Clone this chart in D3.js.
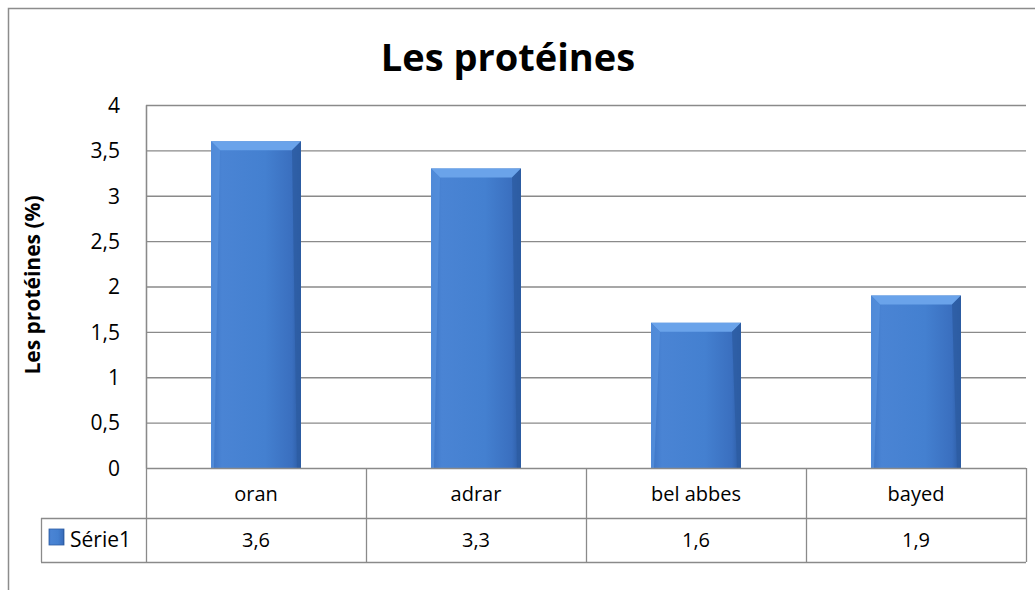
<!DOCTYPE html>
<html>
<head>
<meta charset="utf-8">
<script src="https://cdn.jsdelivr.net/npm/d3@7"></script>
<style>
  body { margin: 0; background: #fff; }
  text { font-family: "Open Sans", sans-serif; fill: #000; }
</style>
</head>
<body>
<div id="chart"></div>
<script>
const categories = ["oran", "adrar", "bel abbes", "bayed"];
const values = [3.6, 3.3, 1.6, 1.9];
const valueLabels = ["3,6", "3,3", "1,6", "1,9"];
const yTicks = [0, 0.5, 1, 1.5, 2, 2.5, 3, 3.5, 4];
const seriesName = "Série1";

const width = 1035, height = 590;
const plot = { left: 146, top: 105, right: 1026, bottom: 468 };
const rowH1 = 50, rowH2 = 44, legendLeft = 41;

const svg = d3.select("#chart").append("svg")
  .attr("width", width).attr("height", height);

const defs = svg.append("defs");
const grad = defs.append("linearGradient").attr("id", "barGrad")
  .attr("x1", "0").attr("x2", "1").attr("y1", "0").attr("y2", "0");
grad.append("stop").attr("offset", "0%").attr("stop-color", "#3b73c4");
grad.append("stop").attr("offset", "12%").attr("stop-color", "#4a84d4");
grad.append("stop").attr("offset", "60%").attr("stop-color", "#4480d0");
grad.append("stop").attr("offset", "90%").attr("stop-color", "#3a6fbf");
grad.append("stop").attr("offset", "100%").attr("stop-color", "#2b5aa0");

// outer chart border
svg.append("rect").attr("x", 8.5).attr("y", 8.5)
  .attr("width", 1040).attr("height", 600)
  .attr("fill", "none").attr("stroke", "#8c8c8c").attr("stroke-width", 1.5);

const x = d3.scaleBand().domain(categories)
  .range([plot.left, plot.right]).paddingInner(0).paddingOuter(0);
const y = d3.scaleLinear().domain([0, 4]).range([plot.bottom, plot.top]);

// gridlines
svg.append("g").selectAll("line").data(yTicks.filter(d => d > 0)).join("line")
  .attr("x1", plot.left).attr("x2", plot.right)
  .attr("y1", d => y(d) + 0.5).attr("y2", d => y(d) + 0.5)
  .attr("stroke", "#8a8a8a").attr("stroke-width", 1.3);

// y axis
const yAxis = svg.append("g").attr("transform", `translate(${plot.left},0)`)
  .call(d3.axisLeft(y).tickValues(yTicks).tickSize(0).tickPadding(26)
    .tickFormat(d => String(d).replace(".", ",")));
yAxis.select(".domain").attr("stroke", "#8a8a8a").attr("stroke-width", 1.3);
yAxis.selectAll("text").attr("font-size", 21).attr("font-family", "Open Sans")
  .attr("dy", "0.35em");

// bars
const barW = 90;
const bars = svg.append("g").selectAll("g").data(values).join("g")
  .attr("transform", (d, i) => `translate(${x(categories[i]) + x.bandwidth() / 2 - barW / 2},0)`);
bars.append("rect")
  .attr("x", 0).attr("y", d => y(d)).attr("width", barW)
  .attr("height", d => y(0) - y(d))
  .attr("fill", "url(#barGrad)");
const bv = 9;
bars.append("path")
  .attr("d", d => `M0,${y(d)} L${barW},${y(d)} L${barW - bv},${y(d) + bv} L${bv},${y(d) + bv} Z`)
  .attr("fill", "#6aa3ea");
bars.append("path")
  .attr("d", d => `M${barW},${y(d)} L${barW},${y(0)} L${barW - 4},${y(0)} L${barW - bv},${y(d) + bv} Z`)
  .attr("fill", "#2d5ca3").attr("opacity", 0.8);
bars.append("path")
  .attr("d", d => `M0,${y(d)} L0,${y(0)} L3,${y(0)} L${bv},${y(d) + bv} Z`)
  .attr("fill", "#5590dc").attr("opacity", 0.8);

// data table
const tbl = svg.append("g").attr("fill", "none").attr("stroke", "#8a8a8a").attr("stroke-width", 1.3);
tbl.append("line").attr("x1", plot.left).attr("x2", plot.right)
  .attr("y1", plot.bottom + 0.5).attr("y2", plot.bottom + 0.5);
tbl.append("line").attr("x1", legendLeft).attr("x2", plot.right)
  .attr("y1", plot.bottom + rowH1 + 0.5).attr("y2", plot.bottom + rowH1 + 0.5);
tbl.append("line").attr("x1", legendLeft).attr("x2", plot.right)
  .attr("y1", plot.bottom + rowH1 + rowH2 + 0.5).attr("y2", plot.bottom + rowH1 + rowH2 + 0.5);
tbl.append("line").attr("x1", legendLeft + 0.5).attr("x2", legendLeft + 0.5)
  .attr("y1", plot.bottom + rowH1).attr("y2", plot.bottom + rowH1 + rowH2);
tbl.selectAll(".v").data(categories.concat(["end"])).join("line")
  .attr("x1", (d, i) => plot.left + i * x.bandwidth() + 0.5)
  .attr("x2", (d, i) => plot.left + i * x.bandwidth() + 0.5)
  .attr("y1", (d, i) => i === 0 ? plot.top : plot.bottom)
  .attr("y2", plot.bottom + rowH1 + rowH2);

svg.append("g").selectAll("text").data(categories).join("text")
  .attr("x", d => x(d) + x.bandwidth() / 2)
  .attr("y", plot.bottom + 33)
  .attr("text-anchor", "middle").attr("font-size", 20)
  .text(d => d);
svg.append("g").selectAll("text").data(valueLabels).join("text")
  .attr("x", (d, i) => x(categories[i]) + x.bandwidth() / 2)
  .attr("y", plot.bottom + rowH1 + 29)
  .attr("text-anchor", "middle").attr("font-size", 20)
  .text(d => d);

// legend key
svg.append("rect").attr("x", 49).attr("y", plot.bottom + rowH1 + 11)
  .attr("width", 15).attr("height", 16).attr("fill", "url(#barGrad)")
  .attr("stroke", "#2d5ca3").attr("stroke-width", 0.8);
svg.append("text").attr("x", 70).attr("y", plot.bottom + rowH1 + 29)
  .attr("font-size", 21).text(seriesName);

// title
svg.append("text").attr("x", 508).attr("y", 71)
  .attr("text-anchor", "middle").attr("font-size", 38).attr("font-weight", "bold")
  .text("Les protéines");

// y axis title
svg.append("text")
  .attr("transform", `translate(40,285) rotate(-90)`)
  .attr("text-anchor", "middle").attr("font-size", 21).attr("font-weight", "bold")
  .text("Les protéines (%)");
</script>
</body>
</html>
